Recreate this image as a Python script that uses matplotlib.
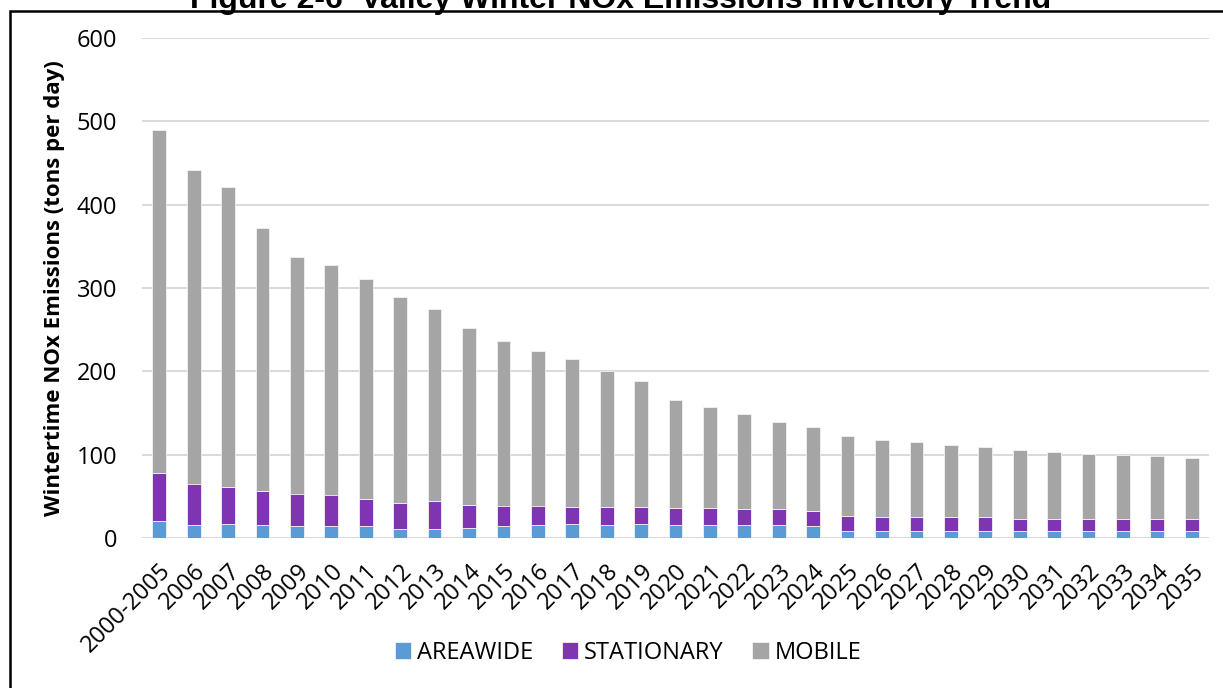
import matplotlib
matplotlib.use("Agg")
import matplotlib.pyplot as plt
from matplotlib.patches import Rectangle
import numpy as np

categories = ["2000-2005"] + [str(y) for y in range(2006, 2036)]

areawide = [20.5, 15.7, 16.5, 15.3, 14.5, 14.5, 14.5, 10.8, 10.8, 12.0,
            14.0, 16.0, 16.5, 15.7, 16.9, 15.7, 15.7, 15.7, 15.7, 14.5,
            8.4, 8.4, 8.4, 8.4, 8.4, 8.4, 8.4, 8.4, 8.4, 8.4, 8.4]
stationary = [57.0, 49.7, 44.9, 41.3, 38.9, 37.7, 32.5, 31.7, 33.8, 28.2,
              25.0, 23.0, 21.3, 21.6, 20.4, 20.4, 20.4, 19.6, 19.2, 18.0,
              18.1, 17.3, 17.3, 17.3, 17.3, 14.9, 14.6, 14.8, 14.8, 14.8, 14.8]
mobile = [412.5, 376.6, 359.6, 315.4, 283.6, 275.8, 264.0, 246.5, 230.4, 211.8,
          198.0, 186.0, 177.2, 163.7, 150.7, 128.9, 120.9, 113.2, 104.4, 100.1,
          95.5, 92.3, 89.3, 86.0, 83.3, 82.2, 80.0, 77.8, 76.3, 74.6, 73.3]

series_names = ["AREAWIDE", "STATIONARY", "MOBILE"]
colors = ["#5B9BD5", "#7F35B2", "#A5A5A5"]
yticks = [0, 100, 200, 300, 400, 500, 600]

plt.rcParams['font.family'] = ['Open Sans', 'DejaVu Sans']

W, H = 1223, 688
fig = plt.figure(figsize=(W / 100, H / 100), dpi=100)
ax = fig.add_axes([142 / W, 1 - 538 / H, (1209 - 142) / W, (538 - 38) / H])

x = np.arange(len(categories))
bottom = np.zeros(len(categories))
for name, vals, c in zip(series_names, [areawide, stationary, mobile], colors):
    vals = np.array(vals)
    ax.bar(x, vals, width=0.4, bottom=bottom, color=c, label=name,
           edgecolor="#F2F2F2", linewidth=0.6, zorder=3)
    bottom += vals

ax.set_xlim(-0.5, len(categories) - 0.5)
ax.set_ylim(0, 600)
ax.set_yticks(yticks)
ax.set_yticklabels([str(v) for v in yticks], fontsize=17)
ax.set_xticks(x)
ax.set_xticklabels(categories, rotation=45, ha="right", rotation_mode="anchor",
                   fontsize=17)
ax.tick_params(axis="both", length=0)
ax.tick_params(axis="y", pad=18)
ax.tick_params(axis="x", pad=15)
ax.yaxis.grid(True, color="#D9D9D9", linewidth=1.4, zorder=0)
ax.set_axisbelow(True)
for s in ax.spines.values():
    s.set_visible(False)

ax.set_ylabel("Wintertime NOx Emissions (tons per day)", fontsize=16,
              fontweight="bold", labelpad=8)

fig.legend(loc="center", bbox_to_anchor=(628 / W, 1 - 653 / H), ncol=3,
           frameon=False, fontsize=17, handlelength=0.7, handleheight=0.7,
           handletextpad=0.25, columnspacing=1.2)

fig.text(621 / W, 1 - 8 / H, "Figure 2-6  Valley Winter NOx Emissions Inventory Trend",
         ha="center", va="baseline", fontsize=23, fontweight="bold",
         family=["Liberation Sans", "DejaVu Sans"])

fig.patches.append(Rectangle((10 / W, -0.05), 1.2, 1 - 11 / H + 0.05,
                             transform=fig.transFigure, fill=False,
                             edgecolor="black", linewidth=1.8))

fig.savefig("out.png", dpi=100)
